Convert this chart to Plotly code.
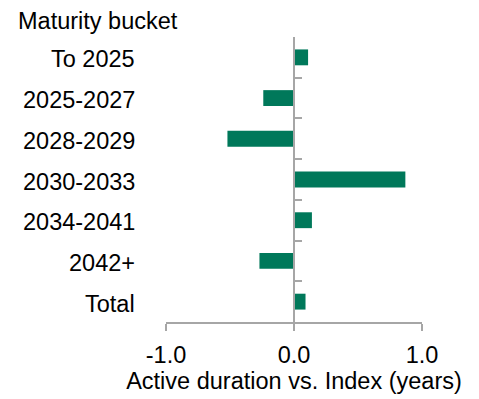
import plotly.graph_objects as go

categories = ["To 2025", "2025-2027", "2028-2029", "2030-2033", "2034-2041", "2042+", "Total"]
values = [0.11, -0.24, -0.52, 0.87, 0.14, -0.27, 0.09]
x_ticks = [-1.0, 0.0, 1.0]
x_tick_labels = ["-1.0", "0.0", "1.0"]
y_title = "Maturity bucket"
x_title = "Active duration vs. Index (years)"

GREEN = "#00785A"
GRAY = "#A6A6A6"
FONT = "Liberation Sans, Arial, sans-serif"
FS = 23.5

fig = go.Figure()
fig.add_trace(go.Bar(
    y=categories, x=values, orientation="h",
    marker=dict(color=GREEN, line=dict(width=0)),
    hoverinfo="skip",
))

annotations = []
for c in categories:
    annotations.append(dict(
        x=0, xref="paper", y=c, yref="y", xanchor="right", yanchor="middle",
        xshift=-29, yshift=-2, text=c, showarrow=False,
        font=dict(family=FONT, size=FS, color="#000000"),
    ))
annotations.append(dict(
    x=0, xref="paper", y=1, yref="paper", xanchor="left", yanchor="bottom",
    xshift=-150, yshift=1, text=y_title, showarrow=False,
    font=dict(family=FONT, size=FS, color="#000000"),
))

fig.update_layout(
    width=479, height=399,
    margin=dict(l=166, r=57, t=37, b=71, pad=0),
    paper_bgcolor="white", plot_bgcolor="white",
    showlegend=False,
    bargap=0.61,
    font=dict(family=FONT, size=FS, color="#000000"),
    annotations=annotations,
    xaxis=dict(
        range=[-1, 1], tickvals=x_ticks, ticktext=x_tick_labels,
        showgrid=False, zeroline=False,
        showline=True, linecolor=GRAY, linewidth=1.5,
        ticks="outside", ticklen=7, tickwidth=1.5, tickcolor=GRAY,
        ticklabelstandoff=4,
        tickfont=dict(family=FONT, size=FS, color="#000000"),
        title=dict(text=x_title, standoff=3,
                   font=dict(family=FONT, size=FS, color="#000000")),
    ),
    yaxis=dict(
        type="category", categoryorder="array", categoryarray=categories,
        range=[6.5, -0.5],
        anchor="free", position=0.5,
        showgrid=False, zeroline=False,
        showline=True, linecolor=GRAY, linewidth=1.5,
        ticks="inside", ticklen=7, tickwidth=1.5, tickcolor=GRAY,
        tickson="boundaries",
        showticklabels=False,
    ),
)

fig.write_html("out.html")
